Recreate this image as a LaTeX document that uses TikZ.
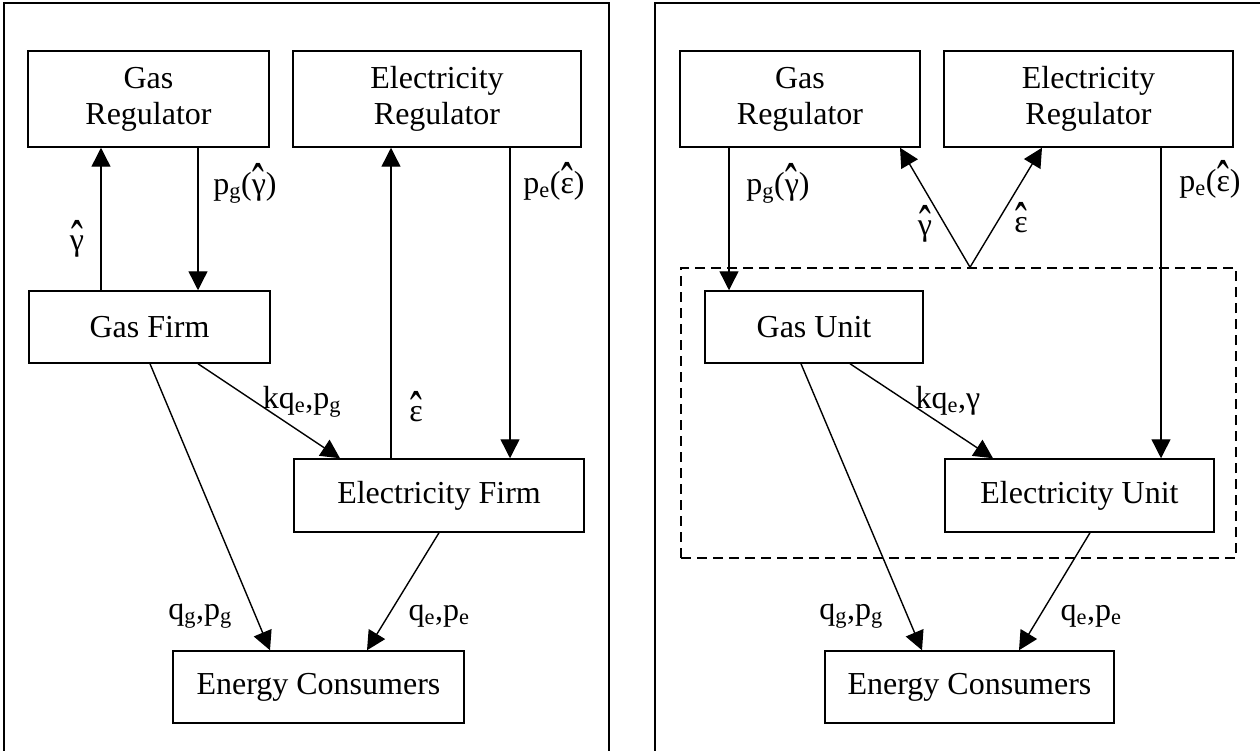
\documentclass[tikz,border=0pt]{standalone}
\usepackage{fontspec}
\setmainfont{Liberation Serif}
\usetikzlibrary{arrows.meta}
\newcommand{\hatted}[1]{\ooalign{#1\cr\hidewidth\raisebox{-0.3em}{\scalebox{1.1}[1.8]{ˆ}}\hidewidth\cr}}
\begin{document}
\begin{tikzpicture}[x=1pt,y=-1pt,
  font=\fontsize{32}{36}\selectfont,
  box/.style={draw, line width=1.5pt, inner sep=0pt, align=center},
  arr/.style={line width=1.4pt, -{Triangle[length=19pt,width=19pt]}},
  frame/.style={draw, line width=1.5pt},
  lbl/.style={inner sep=0pt, anchor=center}]
\useasboundingbox (0,0) rectangle (1260,751);
\clip (0,0) rectangle (1260,751);
% frames
\draw[frame] (4,3) rectangle (609,780);
\draw[frame] (655,3) rectangle (1290,780);
% ---------- left panel ----------
\node[box, minimum width=241pt, minimum height=96pt] (gr1) at (148.5,99) {Gas\\Regulator};
\node[box, minimum width=288pt, minimum height=96pt] (er1) at (437,99) {Electricity\\Regulator};
\node[box, minimum width=241pt, minimum height=72pt] (gf1) at (149.5,327) {Gas Firm};
\node[box, minimum width=290pt, minimum height=73pt] (ef1) at (439,495.5) {Electricity Firm};
\node[box, minimum width=291pt, minimum height=72pt] (ec1) at (318.5,687) {Energy Consumers};
\draw[arr] (gf1.north -| 101,0) -- (gr1.south -| 101,0);
\draw[arr] (gr1.south -| 198,0) -- (gf1.north -| 198,0);
\draw[arr] (ef1.north -| 391,0) -- (er1.south -| 391,0);
\draw[arr] (er1.south -| 510,0) -- (ef1.north -| 510,0);
\draw[arr] (gf1.south -| 198,0) -- (ef1.north -| 340,0);
\draw[arr] (gf1.south -| 150,0) -- (ec1.north -| 270,0);
\draw[arr] (ef1.south -| 439,0) -- (ec1.north -| 367,0);
\node[lbl] (l1) at (77,248) {\hatted{γ}};
\node[lbl] (l2) at (245,188) {p\textsubscript{g}(\hatted{γ})};
\node[lbl] (l3) at (554,187) {p\textsubscript{e}(\hatted{ε})};
\node[lbl] (l4) at (302,402) {kq\textsubscript{e},p\textsubscript{g}};
\node[lbl] (l5) at (416,419) {\hatted{ε}};
\node[lbl] (l6) at (200,616) {q\textsubscript{g},p\textsubscript{g}};
\node[lbl] (l7) at (439,616) {q\textsubscript{e},p\textsubscript{e}};
% ---------- right panel ----------
\node[box, draw, dashed, dash pattern=on 10pt off 6pt, minimum width=555pt, minimum height=290pt] (grp) at (958.5,413) {};
\node[box, minimum width=240pt, minimum height=96pt] (gr2) at (800,99) {Gas\\Regulator};
\node[box, minimum width=289pt, minimum height=96pt] (er2) at (1088.5,99) {Electricity\\Regulator};
\node[box, minimum width=218pt, minimum height=72pt] (gu2) at (814,327) {Gas Unit};
\node[box, minimum width=269pt, minimum height=73pt] (eu2) at (1079.5,495.5) {Electricity Unit};
\node[box, minimum width=289pt, minimum height=72pt] (ec2) at (969.5,687) {Energy Consumers};
\coordinate (v) at (grp.north -| 970,0);
\draw[arr] (gr2.south -| 729,0) -- (gu2.north -| 729,0);
\draw[arr] (v) -- (gr2.south -| 900,0);
\draw[arr] (v) -- (er2.south -| 1042,0);
\draw[arr] (er2.south -| 1161,0) -- (eu2.north -| 1161,0);
\draw[arr] (gu2.south -| 850,0) -- (eu2.north -| 993,0);
\draw[arr] (gu2.south -| 801,0) -- (ec2.north -| 922,0);
\draw[arr] (eu2.south -| 1090,0) -- (ec2.north -| 1019,0);
\node[lbl] (r1) at (778,188) {p\textsubscript{g}(\hatted{γ})};
\node[lbl] (r2) at (925,233) {\hatted{γ}};
\node[lbl] (r3) at (1021,230) {\hatted{ε}};
\node[lbl] (r4) at (1210,185) {p\textsubscript{e}(\hatted{ε})};
\node[lbl] (r5) at (948,401) {kq\textsubscript{e},γ};
\node[lbl] (r6) at (851,616) {q\textsubscript{g},p\textsubscript{g}};
\node[lbl] (r7) at (1091,616) {q\textsubscript{e},p\textsubscript{e}};
\end{tikzpicture}
\end{document}
